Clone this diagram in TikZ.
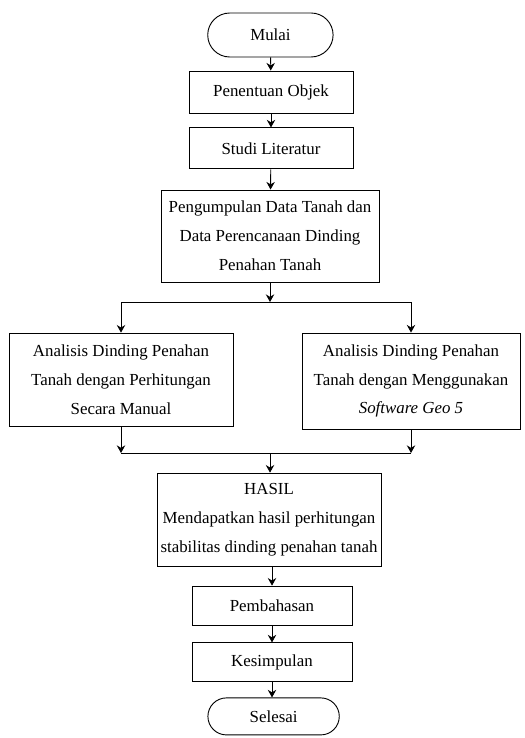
\documentclass[tikz,border=0pt]{standalone}
\usepackage{fontspec}
\setmainfont{Liberation Serif}
\usetikzlibrary{shapes.misc, arrows.meta}

\begin{document}
\begin{tikzpicture}[line width=0.65pt, font=\fontsize{12}{20.5}\selectfont, align=center]
	\tikzstyle{proses}=[draw, rectangle, inner sep=2pt]
	\tikzstyle{terminal}=[draw, rounded rectangle, inner sep=2pt]
	\tikzstyle{panah}=[-{Stealth[length=1.9mm, width=2.1mm]}]

	\useasboundingbox (0,0) rectangle (13.1,-18.45);

	\node[terminal, minimum width=3.275cm, minimum height=1.1cm] (mulai) at (6.76,-0.875) {Mulai};
	\node[proses, minimum width=4.1cm, minimum height=1.05cm] (objek) at (6.775,-2.3) {Penentuan Objek};
	\node[proses, minimum width=4.1cm, minimum height=1.025cm] (studi) at (6.775,-3.71) {Studi Literatur};
	\node[proses, minimum width=5.45cm, minimum height=2.3cm] (data) at (6.75,-5.9)
		{Pengumpulan Data Tanah dan\\Data Perencanaan Dinding\\Penahan Tanah};
	\node[proses, minimum width=5.6cm, minimum height=2.325cm] (manual) at (3.025,-9.49)
		{Analisis Dinding Penahan\\Tanah dengan Perhitungan\\Secara Manual};
	\node[proses, minimum width=5.45cm, minimum height=2.4cm] (geo) at (10.275,-9.525)
		{Analisis Dinding Penahan\\Tanah dengan Menggunakan\\\textit{Software Geo 5}};
	\node[proses, minimum width=5.6cm, minimum height=2.325cm] (hasil) at (6.725,-12.99)
		{HASIL\\Mendapatkan hasil perhitungan\\stabilitas dinding penahan tanah};
	\node[proses, minimum width=4cm, minimum height=0.975cm] (bahas) at (6.8,-15.14) {Pembahasan};
	\node[proses, minimum width=4cm, minimum height=0.975cm] (simpul) at (6.8,-16.56) {Kesimpulan};
	\node[terminal, minimum width=3.425cm, minimum height=0.925cm] (selesai) at (6.84,-17.91) {Selesai};

	\coordinate (cabang) at (6.75,-7.55);
	\coordinate (cabangL) at (3.025,-7.55);
	\coordinate (cabangR) at (10.275,-7.55);
	\coordinate (gabung) at (6.75,-11.325);
	\coordinate (gabungL) at (3.025,-11.325);
	\coordinate (gabungR) at (10.275,-11.325);

	\draw[panah] (mulai) -- (objek);
	\draw[panah] (objek) -- (studi);
	\draw[panah] (studi) -- (data);
	\draw[panah] (data) -- (cabang);
	\draw (cabangL) -- (cabangR);
	\draw[panah] (cabangL) -- (manual);
	\draw[panah] (cabangR) -- (geo);
	\draw[panah] (manual) -- (gabungL);
	\draw[panah] (geo) -- (gabungR);
	\draw (gabungL) -- (gabungR);
	\draw[panah] (gabung) -- (hasil.north -| gabung);
	\draw[panah] (hasil.south -| bahas) -- (bahas);
	\draw[panah] (bahas) -- (simpul);
	\draw[panah] (simpul) -- (selesai.north -| simpul);
\end{tikzpicture}
\end{document}
